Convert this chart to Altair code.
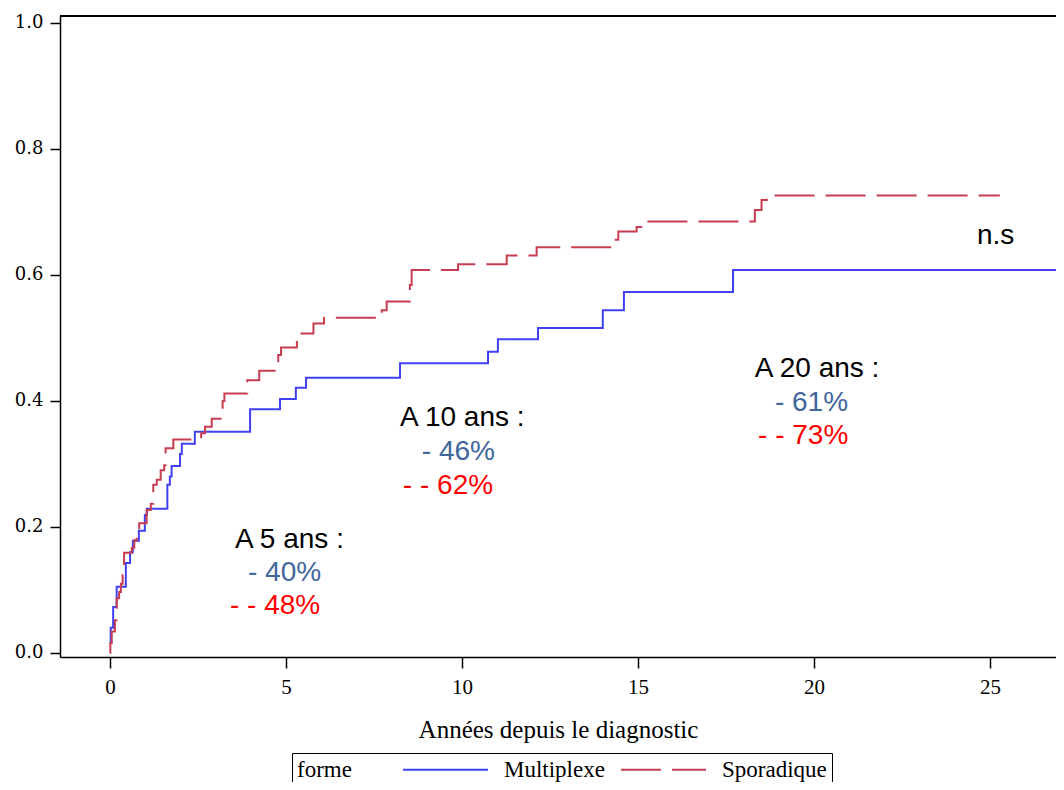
import altair as alt
import pandas as pd

# Multiplexe (solid blue) step curve
multi_t = [0.0, 0.02, 0.09, 0.19, 0.45, 0.57, 0.65, 0.82, 0.99, 1.05, 1.63, 1.70, 1.75,
           1.99, 2.04, 2.41, 3.98, 4.83, 5.28, 5.57, 8.24, 10.74, 11.02, 12.16, 14.0,
           14.6, 17.7, 27.2]
multi_y = [0.016, 0.04, 0.073, 0.105, 0.143, 0.16, 0.178, 0.194, 0.219, 0.229, 0.267, 0.28,
           0.297, 0.316, 0.332, 0.351, 0.387, 0.403, 0.421, 0.437, 0.46, 0.478, 0.498,
           0.516, 0.544, 0.573, 0.608, 0.608]

# Sporadique (dashed red) step curve
spor_t = [0.0, 0.01, 0.05, 0.14, 0.19, 0.26, 0.31, 0.36, 0.40, 0.62, 0.69, 0.76, 0.83,
          1.04, 1.16, 1.23, 1.33, 1.44, 1.54, 1.58, 1.80, 2.59, 2.70, 2.89, 3.20, 3.25,
          3.90, 4.24, 4.78, 4.86, 5.31, 5.78, 6.08, 7.72, 7.86, 8.52, 8.57, 9.89, 11.27,
          12.12, 14.30, 14.44, 14.96, 15.10, 18.32, 18.51, 18.66, 25.28]
spor_y = [0.0, 0.016, 0.034, 0.052, 0.087, 0.097, 0.11, 0.124, 0.159, 0.167, 0.179, 0.198,
          0.206, 0.227, 0.237, 0.267, 0.275, 0.29, 0.298, 0.325, 0.339, 0.349, 0.359, 0.372,
          0.40, 0.412, 0.433, 0.448, 0.473, 0.485, 0.507, 0.523, 0.532, 0.544, 0.558, 0.584,
          0.608, 0.617, 0.631, 0.644, 0.656, 0.669, 0.676, 0.685, 0.703, 0.719, 0.726, 0.726]

groups = ["Multiplexe", "Sporadique"]
x_ticks = [0, 5, 10, 15, 20, 25]
y_ticks = [0.0, 0.2, 0.4, 0.6, 0.8, 1.0]

# annotations (anchor in data units)
ann_text = ["A 5 ans :", "- 40%", "- - 48%",
            "A 10 ans :", "- 46%", "- - 62%",
            "A 20 ans :", "- 61%", "- - 73%", "n.s"]
ann_kind = ["label", "multi", "spor", "label", "multi", "spor", "label", "multi", "spor", "label"]
ann_t = [3.55, 3.92, 3.41, 8.24, 8.86, 8.32, 18.32, 18.89, 18.41, 24.63]
ann_v = [0.179, 0.127, 0.075, 0.373, 0.319, 0.265, 0.451, 0.397, 0.344, 0.662]

rows = [{"t": t, "p": y, "forme": groups[0]} for t, y in zip(multi_t, multi_y)]
rows += [{"t": t, "p": y, "forme": groups[1]} for t, y in zip(spor_t, spor_y)]
df = pd.DataFrame(rows)
ann = pd.DataFrame({"text": ann_text, "kind": ann_kind, "t": ann_t, "v": ann_v})

W, H = 996, 641
xscale = alt.Scale(domain=[-1.42, 26.875], nice=False, zero=False)
yscale = alt.Scale(domain=[-0.00635, 1.0111], nice=False, zero=False)

lines = alt.Chart(df).mark_line(interpolate="step-after", strokeWidth=2, clip=True).encode(
    x=alt.X("t:Q", scale=xscale,
            axis=alt.Axis(values=x_ticks, title="Années depuis le diagnostic", format="d",
                          labelFont="Liberation Serif", labelFontSize=21, labelPadding=8,
                          titleFont="Liberation Serif", titleFontSize=25, titleFontWeight="normal",
                          titlePadding=20, tickSize=11)),
    y=alt.Y("p:Q", scale=yscale,
            axis=alt.Axis(values=y_ticks, title=None, format=".1f",
                          labelFont="DejaVu Serif", labelFontSize=18, labelPadding=7, tickSize=10)),
    color=alt.Color("forme:N", scale=alt.Scale(domain=groups, range=["#4040f0", "#c83c50"]),
                    title="forme"),
    strokeDash=alt.StrokeDash("forme:N", scale=alt.Scale(domain=groups, range=[[1, 0], [40, 11]]),
                              title="forme"),
    order="t:Q",
)

def txt(kind, color):
    return alt.Chart(ann).transform_filter(alt.datum.kind == kind).mark_text(
        align="left", baseline="middle", font="Liberation Sans", fontSize=28, color=color
    ).encode(x=alt.X("t:Q", scale=xscale), y=alt.Y("p:Q", scale=yscale).title(None), text="text:N"
    ).transform_calculate(p="datum.v")

top = alt.Chart(df).mark_rule(color="black", strokeWidth=1.5).encode(
    x=alt.value(0), x2=alt.value(W), y=alt.value(0))

chart = alt.layer(top, lines, txt("label", "black"), txt("multi", "#41669c"), txt("spor", "#ff0000")
).properties(
    width=W, height=H,
    autosize=alt.AutoSizeParams(type="none"),
    padding={"left": 52, "top": 8, "right": 0, "bottom": 125},
).configure_view(stroke=None).configure_axis(
    domainColor="black", domainWidth=1.5, tickColor="black", tickWidth=1.5,
    labelColor="black", titleColor="black", grid=False,
).configure_legend(
    orient="none", legendX=232, legendY=737, direction="horizontal", titleOrient="left",
    symbolType="M-5,0H5", symbolSize=289, symbolStrokeWidth=2,
    labelFont="Liberation Serif", labelFontSize=23, titleFont="Liberation Serif",
    titleFontSize=23, titleFontWeight="normal", titlePadding=82, labelOffset=47,
    columnPadding=12, strokeColor="black", padding=5, labelColor="black", titleColor="black",
)

chart.save("out.html", embed_options={"renderer": "svg", "actions": False})
